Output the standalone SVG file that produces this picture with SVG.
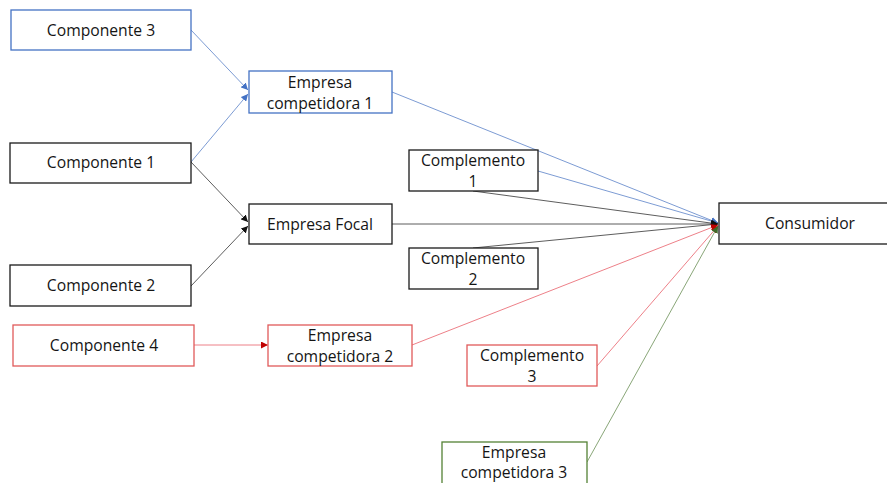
<svg xmlns="http://www.w3.org/2000/svg" width="887" height="483" viewBox="0 0 887 483">
  <style>
    .box { fill: #ffffff; stroke-width: 1.3; }
    .k { stroke: #1a1a1a; }
    .b { stroke: #4472c4; }
    .r { stroke: #e05a5a; }
    .g { stroke: #548235; }
    text { font-family: "Open Sans", "Liberation Sans", Arial, sans-serif; font-size: 15.7px; fill: #151515; text-anchor: middle; }
    .edge { fill: none; stroke-width: 0.8; }
    .eb { stroke: #5b82c8; }
    .ek { stroke: #333333; }
    .er { stroke: #e8606a; }
    .eg { stroke: #6b8f55; }
  </style>
  <defs>
    <marker id="ah-b" viewBox="0 0 10 10" refX="10" refY="5" markerWidth="7" markerHeight="7" markerUnits="userSpaceOnUse" orient="auto">
      <path d="M0,0 L10,5 L0,10 Z" fill="#4472c4"/>
    </marker>
    <marker id="ah-k" viewBox="0 0 10 10" refX="10" refY="5" markerWidth="7" markerHeight="7" markerUnits="userSpaceOnUse" orient="auto">
      <path d="M0,0 L10,5 L0,10 Z" fill="#111111"/>
    </marker>
    <marker id="ah-r" viewBox="0 0 10 10" refX="10" refY="5" markerWidth="7" markerHeight="7" markerUnits="userSpaceOnUse" orient="auto">
      <path d="M0,0 L10,5 L0,10 Z" fill="#c00000"/>
    </marker>
    <marker id="ah-g" viewBox="0 0 10 10" refX="10" refY="5" markerWidth="7" markerHeight="7" markerUnits="userSpaceOnUse" orient="auto">
      <path d="M0,0 L10,5 L0,10 Z" fill="#3f6b2a"/>
    </marker>
  </defs>

  <g id="connectors">
    <line class="edge eb" x1="191" y1="30" x2="248" y2="90" marker-end="url(#ah-b)"/>
    <line class="edge eb" x1="191" y1="162" x2="248" y2="94" marker-end="url(#ah-b)"/>
    <line class="edge ek" x1="191" y1="162" x2="248" y2="222" marker-end="url(#ah-k)"/>
    <line class="edge ek" x1="191" y1="286" x2="248" y2="226" marker-end="url(#ah-k)"/>
    <line class="edge er" x1="194" y1="345" x2="268" y2="345" marker-end="url(#ah-r)"/>
    <line class="edge eb" x1="392" y1="92" x2="718" y2="223" marker-end="url(#ah-b)"/>
    <line class="edge eb" x1="538" y1="171" x2="718" y2="223" marker-end="url(#ah-b)"/>
    <line class="edge ek" x1="473" y1="191" x2="718" y2="224" marker-end="url(#ah-k)"/>
    <line class="edge ek" x1="392" y1="224" x2="718" y2="224" marker-end="url(#ah-k)"/>
    <line class="edge ek" x1="473" y1="248" x2="718" y2="224" marker-end="url(#ah-k)"/>
    <line class="edge er" x1="412" y1="345" x2="718" y2="225" marker-end="url(#ah-r)"/>
    <line class="edge er" x1="597" y1="366" x2="718" y2="226" marker-end="url(#ah-r)"/>
    <line class="edge eg" x1="587" y1="462" x2="718" y2="226" marker-end="url(#ah-g)"/>
  </g>

  <g id="componente3">
    <rect class="box b" x="11" y="10" width="180" height="40"/>
    <text x="101" y="36">Componente 3</text>
  </g>
  <g id="empresa-competidora1">
    <rect class="box b" x="249" y="71" width="143" height="42"/>
    <text x="320" y="88">Empresa</text>
    <text x="320" y="109">competidora 1</text>
  </g>
  <g id="componente1">
    <rect class="box k" x="10" y="143" width="181" height="40"/>
    <text x="101" y="168">Componente 1</text>
  </g>
  <g id="complemento1">
    <rect class="box k" x="409" y="150" width="129" height="41"/>
    <text x="473" y="166">Complemento</text>
    <text x="473" y="187">1</text>
  </g>
  <g id="empresa-focal">
    <rect class="box k" x="249" y="204" width="143" height="40"/>
    <text x="320" y="230">Empresa Focal</text>
  </g>
  <g id="consumidor">
    <rect class="box k" x="719" y="203" width="170" height="41"/>
    <text x="810" y="229">Consumidor</text>
  </g>
  <g id="complemento2">
    <rect class="box k" x="409" y="248" width="129" height="41"/>
    <text x="473" y="264">Complemento</text>
    <text x="473" y="285">2</text>
  </g>
  <g id="componente2">
    <rect class="box k" x="10" y="265" width="181" height="41"/>
    <text x="101" y="291">Componente 2</text>
  </g>
  <g id="componente4">
    <rect class="box r" x="13" y="325" width="181" height="41"/>
    <text x="104" y="351">Componente 4</text>
  </g>
  <g id="empresa-competidora2">
    <rect class="box r" x="268" y="325" width="144" height="41"/>
    <text x="340" y="341">Empresa</text>
    <text x="340" y="362">competidora 2</text>
  </g>
  <g id="complemento3">
    <rect class="box r" x="467" y="345" width="130" height="41"/>
    <text x="532" y="361">Complemento</text>
    <text x="532" y="382">3</text>
  </g>
  <g id="empresa-competidora3">
    <rect class="box g" x="442" y="442" width="145" height="45"/>
    <text x="514" y="458">Empresa</text>
    <text x="514" y="478">competidora 3</text>
  </g>
</svg>
